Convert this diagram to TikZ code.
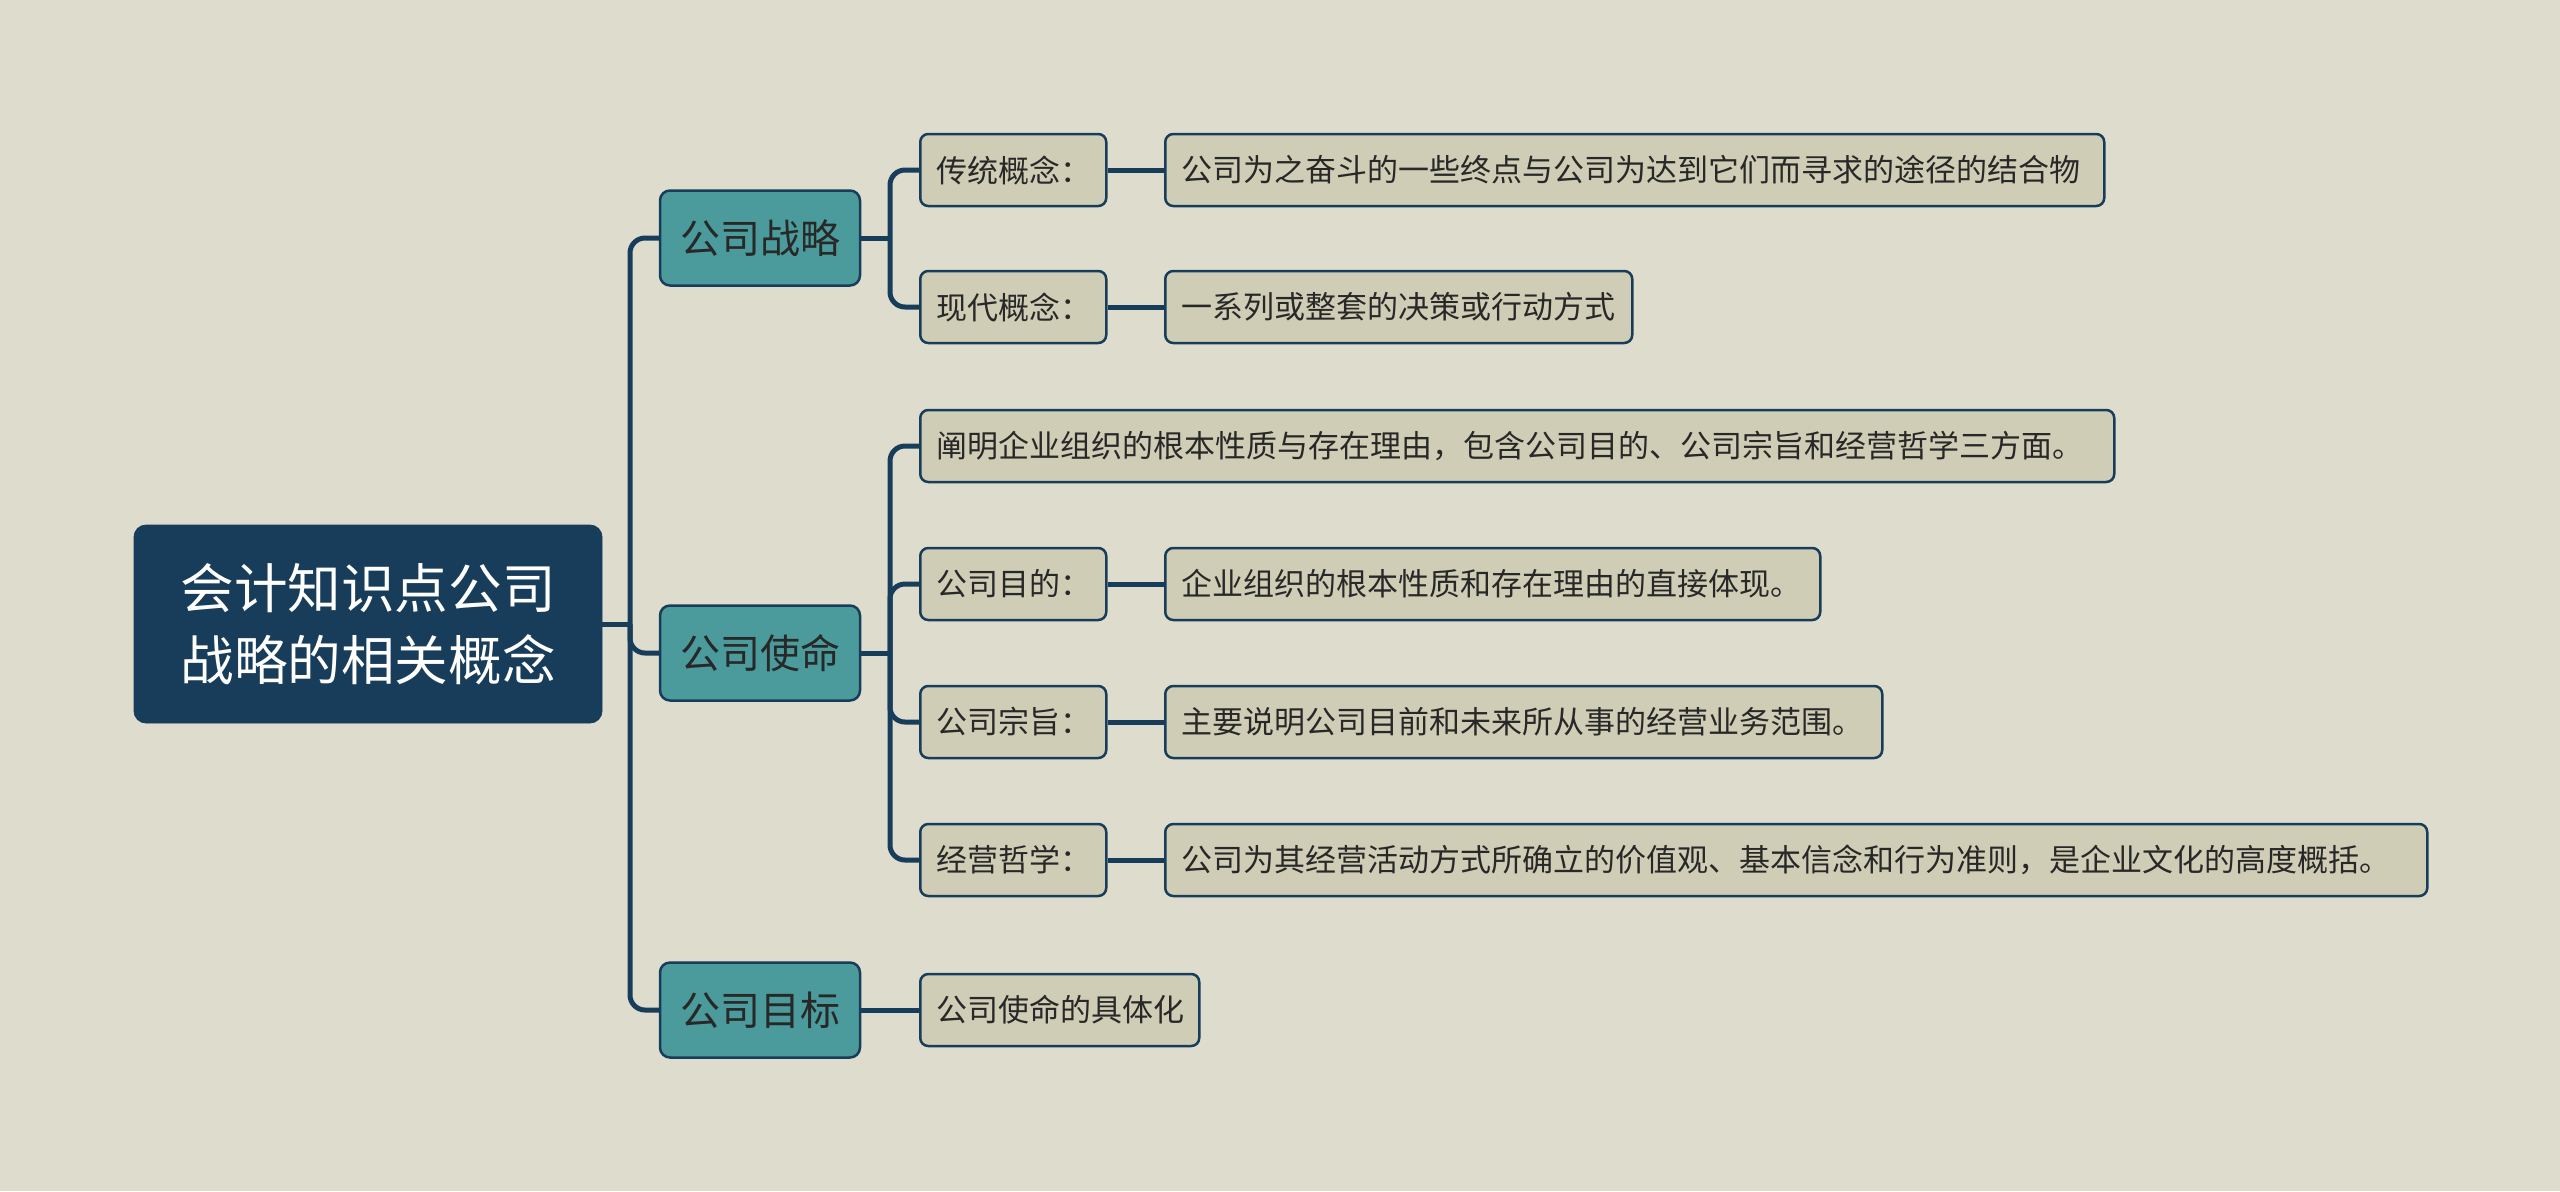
\documentclass[tikz,border=0pt]{standalone}
\usepackage{fontspec}
\setmainfont{Noto Sans CJK SC}
\definecolor{bgc}{RGB}{222,221,205}
\definecolor{navy}{RGB}{24,61,91}
\definecolor{tealc}{RGB}{75,155,156}
\definecolor{leaffill}{RGB}{207,205,181}
\definecolor{txt}{RGB}{40,40,40}
\tikzset{
  conn/.style={draw=navy, line width=2.5pt},
  rootbox/.style={fill=navy, draw=navy, rounded corners=6pt, minimum width=234pt, minimum height=99pt,
    inner sep=0pt, align=center, text=white, font=\fontsize{26.8pt}{36pt}\selectfont},
  topicbox/.style={fill=tealc, draw=navy, line width=1.25pt, rounded corners=5pt, minimum width=100pt,
    minimum height=47.5pt, inner sep=0pt, text=txt, font=\fontsize{20pt}{24pt}\selectfont},
  leafbox/.style={fill=leaffill, draw=navy, line width=1.25pt, rounded corners=4pt, minimum height=36pt,
    inner xsep=8pt, inner ysep=0pt, anchor=west, align=left, text=txt, text width=#1,
    font=\fontsize{15.5pt}{18pt}\selectfont}
}
\begin{document}
\begin{tikzpicture}[x=0.5pt,y=-0.5pt]
\fill[bgc] (0,0) rectangle (2560,1191);
\useasboundingbox (0,0) rectangle (2560,1191);

% root
\node[rootbox] (root) at (368,624) {会计知识点公司\\战略的相关概念};

% level 1
\node[topicbox] (s1) at (760,238) {公司战略};
\node[topicbox] (s2) at (760,653) {公司使命};
\node[topicbox] (s3) at (760,1010) {公司目标};

% level 2
\node[leafbox=77pt] (a1) at (919,170) {\mbox{传统概念：}};
\node[leafbox=77pt] (a2) at (919,307) {\mbox{现代概念：}};
\node[leafbox=581pt] (b0) at (919,446) {\mbox{阐明企业组织的根本性质与存在理由，包含公司目的、公司宗旨和经营哲学三方面。}};
\node[leafbox=77pt] (b1) at (919,584) {\mbox{公司目的：}};
\node[leafbox=77pt] (b2) at (919,722) {\mbox{公司宗旨：}};
\node[leafbox=77pt] (b3) at (919,860) {\mbox{经营哲学：}};
\node[leafbox=123.5pt] (c1) at (919,1010) {\mbox{公司使命的具体化}};

% level 3
\node[leafbox=453.5pt] (d1) at (1164,170) {\mbox{公司为之奋斗的一些终点与公司为达到它们而寻求的途径的结合物}};
\node[leafbox=217.5pt] (d2) at (1164,307) {\mbox{一系列或整套的决策或行动方式}};
\node[leafbox=311.5pt] (e1) at (1164,584) {\mbox{企业组织的根本性质和存在理由的直接体现。}};
\node[leafbox=342.5pt] (e2) at (1164,722) {\mbox{主要说明公司目前和未来所从事的经营业务范围。}};
\node[leafbox=615pt] (e3) at (1164,860) {\mbox{公司为其经营活动方式所确立的价值观、基本信念和行为准则，是企业文化的高度概括。}};

% junction coordinates
\coordinate (t0) at (630,624);
\coordinate (t1) at (890,238);
\coordinate (t2) at (890,653);

% root connectors
\draw[conn] (root.east) -- (t0);
\draw[conn, rounded corners=7.5pt] (s1.west) -- (t0 |- s1.west) -- (t0 |- s3.west) -- (s3.west);
\draw[conn, rounded corners=7.5pt] (t0) |- (s2.west);

% strategy connectors
\draw[conn] (s1.east) -- (t1);
\draw[conn, rounded corners=7.5pt] (a1.west) -- (t1 |- a1.west) -- (t1 |- a2.west) -- (a2.west);

% mission connectors
\draw[conn] (s2.east) -- (t2);
\draw[conn, rounded corners=7.5pt] (b0.west) -- (t2 |- b0.west) -- (t2 |- b3.west) -- (b3.west);
\draw[conn, rounded corners=7.5pt] (t2) |- (b1.west);
\draw[conn, rounded corners=7.5pt] (t2) |- (b2.west);

% goal connector
\draw[conn] (s3.east) -- (c1.west);

% leaf connectors
\draw[conn] (a1.east) -- (d1.west);
\draw[conn] (a2.east) -- (d2.west);
\draw[conn] (b1.east) -- (e1.west);
\draw[conn] (b2.east) -- (e2.west);
\draw[conn] (b3.east) -- (e3.west);
\end{tikzpicture}
\end{document}
